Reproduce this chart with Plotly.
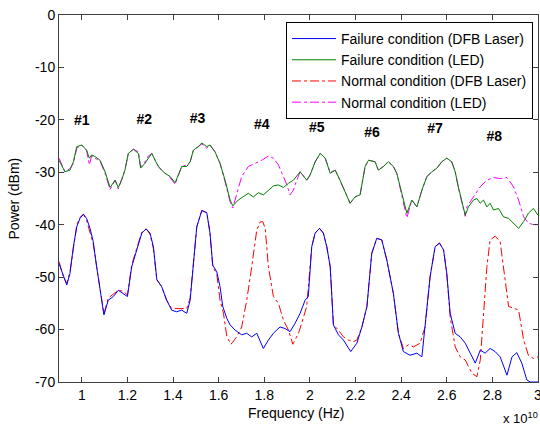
import plotly.graph_objects as go

# Frequency in units of 1e10 Hz, power in dBm
fail_dfb = [(0.900,-47.4),(0.919,-49.9),(0.934,-51.5),(0.948,-49.3),(0.963,-44.2),(0.978,-40.4),(0.992,-38.8),
            (1.007,-38.0),(1.021,-38.8),(1.036,-40.7),(1.050,-43.2),(1.065,-48.0),(1.080,-52.4),(1.097,-57.2),
            (1.116,-54.4),(1.138,-53.7),(1.160,-52.5),(1.182,-53.1),(1.200,-53.7),(1.219,-48.0),(1.241,-44.8),
            (1.263,-41.6),(1.282,-40.8),(1.299,-41.6),(1.314,-44.2),(1.329,-50.5),(1.350,-51.8),(1.372,-54.4),
            (1.394,-56.3),(1.416,-56.6),(1.438,-56.3),(1.460,-56.9),(1.475,-54.4),(1.489,-48.0),(1.504,-40.4),
            (1.526,-37.3),(1.548,-37.7),(1.562,-41.6),(1.574,-47.7),(1.592,-49.0),(1.606,-51.8),(1.618,-55.6),
            (1.636,-57.9),(1.650,-59.1),(1.672,-60.1),(1.701,-61.0),(1.723,-60.7),(1.745,-61.4),(1.767,-60.7),
            (1.796,-63.6),(1.818,-62.0),(1.840,-60.7),(1.869,-59.5),(1.891,-59.8),(1.913,-60.4),(1.935,-58.8),
            (1.957,-56.9),(1.979,-54.4),(1.993,-53.7),(2.008,-44.2),(2.023,-41.6),(2.042,-40.7),(2.059,-41.6),
            (2.074,-44.2),(2.089,-48.0),(2.103,-59.1),(2.125,-61.0),(2.147,-62.0),(2.179,-64.2),(2.206,-62.6),
            (2.228,-59.5),(2.250,-55.6),(2.271,-45.5),(2.293,-42.6),(2.315,-42.9),(2.337,-46.7),(2.366,-53.1),
            (2.388,-60.7),(2.410,-64.2),(2.439,-64.9),(2.469,-64.5),(2.491,-65.2),(2.505,-59.5),(2.527,-49.9),
            (2.549,-44.2),(2.568,-43.5),(2.586,-44.8),(2.600,-49.3),(2.615,-56.9),(2.637,-60.7),(2.659,-61.4),
            (2.681,-62.6),(2.703,-64.5),(2.725,-66.4),(2.747,-63.9),(2.768,-64.5),(2.790,-63.6),(2.812,-64.2),
            (2.834,-65.2),(2.864,-68.7),(2.886,-65.2),(2.907,-64.4),(2.929,-66.4),(2.951,-69.6),(2.966,-70.0),
            (3.000,-70.0)]

norm_dfb = [(0.900,-47.0),(0.919,-49.9),(0.934,-51.2),(0.948,-49.0),(0.963,-44.6),(0.978,-40.0),(0.992,-38.6),
            (1.007,-38.0),(1.021,-39.2),(1.036,-41.3),(1.050,-43.6),(1.065,-48.0),(1.080,-52.4),(1.097,-57.0),
            (1.116,-54.0),(1.138,-53.2),(1.160,-52.5),(1.182,-52.7),(1.200,-53.4),(1.219,-47.6),(1.241,-44.4),
            (1.263,-41.4),(1.282,-40.8),(1.299,-41.8),(1.314,-44.6),(1.329,-50.5),(1.350,-51.8),(1.372,-54.4),
            (1.394,-56.0),(1.416,-56.0),(1.438,-56.0),(1.460,-56.0),(1.475,-54.0),(1.489,-48.0),(1.504,-40.4),
            (1.526,-37.3),(1.548,-37.7),(1.562,-41.6),(1.574,-48.0),(1.592,-49.5),(1.606,-54.4),(1.621,-56.9),
            (1.636,-61.4),(1.654,-62.8),(1.679,-61.4),(1.701,-59.5),(1.723,-54.4),(1.745,-48.0),(1.767,-41.0),
            (1.782,-39.5),(1.793,-39.4),(1.804,-40.7),(1.818,-48.0),(1.840,-53.7),(1.862,-55.0),(1.884,-58.2),
            (1.906,-60.1),(1.925,-62.8),(1.950,-60.7),(1.964,-58.8),(1.986,-55.6),(2.008,-44.2),(2.023,-41.6),
            (2.042,-40.7),(2.059,-41.6),(2.074,-44.2),(2.089,-48.0),(2.103,-59.1),(2.125,-60.1),(2.147,-61.4),
            (2.169,-62.0),(2.191,-62.3),(2.206,-62.0),(2.228,-59.5),(2.250,-55.6),(2.271,-45.5),(2.293,-42.6),
            (2.315,-42.9),(2.337,-46.7),(2.366,-53.1),(2.388,-60.7),(2.410,-63.6),(2.432,-62.9),(2.454,-63.3),
            (2.483,-62.6),(2.505,-59.5),(2.527,-49.9),(2.549,-44.2),(2.568,-43.5),(2.586,-44.8),(2.600,-49.3),
            (2.615,-57.6),(2.637,-63.3),(2.659,-65.2),(2.681,-65.8),(2.710,-68.3),(2.732,-69.0),(2.747,-65.8),
            (2.761,-57.6),(2.776,-48.0),(2.790,-42.9),(2.812,-42.2),(2.834,-43.2),(2.849,-48.0),(2.871,-55.6),
            (2.893,-55.9),(2.915,-56.3),(2.937,-62.0),(2.958,-64.9),(2.980,-65.5),(3.000,-65.2)]

fail_led = [(0.900,-27.7),(0.926,-29.9),(0.948,-29.6),(0.963,-28.0),(0.978,-25.1),(1.000,-24.8),(1.021,-25.8),
            (1.033,-27.3),(1.043,-26.7),(1.058,-27.0),(1.080,-27.7),(1.102,-29.9),(1.124,-32.9),(1.146,-31.5),
            (1.160,-32.9),(1.175,-31.5),(1.189,-29.6),(1.204,-26.4),(1.226,-25.6),(1.248,-26.4),(1.258,-29.2),
            (1.277,-28.3),(1.292,-27.3),(1.307,-26.4),(1.321,-27.7),(1.336,-28.9),(1.350,-29.6),(1.365,-30.2),
            (1.387,-30.8),(1.409,-32.0),(1.423,-30.5),(1.438,-28.9),(1.460,-28.9),(1.475,-28.0),(1.489,-25.8),
            (1.511,-25.1),(1.526,-24.4),(1.548,-25.1),(1.562,-24.8),(1.584,-26.1),(1.606,-28.3),(1.628,-31.5),
            (1.650,-35.3),(1.662,-36.4),(1.686,-35.3),(1.708,-34.7),(1.730,-34.0),(1.752,-34.7),(1.774,-33.9),
            (1.796,-34.3),(1.818,-33.4),(1.840,-32.6),(1.862,-32.4),(1.884,-32.9),(1.906,-32.1),(1.928,-31.5),
            (1.957,-29.9),(1.986,-31.5),(2.001,-30.5),(2.023,-28.0),(2.045,-26.4),(2.067,-27.3),(2.089,-30.2),
            (2.111,-29.6),(2.132,-31.5),(2.154,-33.7),(2.176,-35.9),(2.198,-34.7),(2.220,-34.3),(2.242,-28.9),
            (2.257,-27.7),(2.286,-28.0),(2.300,-29.6),(2.322,-28.9),(2.344,-28.0),(2.366,-28.9),(2.381,-30.2),
            (2.403,-34.0),(2.425,-37.8),(2.447,-35.3),(2.469,-36.6),(2.491,-33.4),(2.513,-30.8),(2.535,-29.9),
            (2.557,-29.2),(2.578,-28.0),(2.600,-27.3),(2.622,-28.0),(2.637,-29.9),(2.651,-32.8),(2.666,-35.3),
            (2.681,-38.2),(2.695,-36.6),(2.717,-35.3),(2.732,-35.0),(2.747,-35.9),(2.761,-35.3),(2.776,-36.6),
            (2.790,-35.9),(2.805,-37.2),(2.827,-36.9),(2.849,-38.5),(2.871,-38.8),(2.893,-39.7),(2.915,-40.7),
            (2.937,-39.4),(2.958,-37.8),(2.980,-36.9),(3.000,-38.2)]

norm_led = [(0.900,-27.3),(0.926,-29.9),(0.948,-29.3),(0.963,-28.3),(0.978,-25.4),(1.000,-24.8),(1.021,-25.8),
            (1.033,-28.6),(1.043,-26.9),(1.058,-27.3),(1.080,-27.9),(1.102,-30.2),(1.124,-33.3),(1.146,-31.5),
            (1.160,-33.2),(1.175,-31.2),(1.189,-29.6),(1.204,-26.4),(1.226,-25.6),(1.248,-26.1),(1.258,-29.0),
            (1.277,-28.0),(1.292,-26.9),(1.307,-26.4),(1.321,-27.7),(1.336,-28.9),(1.350,-29.6),(1.365,-30.2),
            (1.387,-31.0),(1.409,-32.3),(1.423,-30.5),(1.438,-28.9),(1.460,-28.6),(1.475,-28.0),(1.489,-25.8),
            (1.511,-25.1),(1.526,-24.6),(1.548,-25.4),(1.562,-24.8),(1.584,-26.1),(1.606,-28.3),(1.628,-31.8),
            (1.650,-35.6),(1.662,-36.8),(1.679,-34.0),(1.701,-30.8),(1.730,-28.9),(1.760,-28.3),(1.789,-27.7),
            (1.818,-26.9),(1.840,-27.3),(1.862,-28.6),(1.884,-30.8),(1.899,-32.4),(1.913,-34.3),(1.928,-33.4),
            (1.935,-32.4),(1.957,-29.9),(1.986,-31.5),(2.001,-30.5),(2.023,-28.0),(2.045,-26.4),(2.067,-27.3),
            (2.089,-30.0),(2.111,-29.6),(2.132,-31.5),(2.154,-33.7),(2.176,-35.9),(2.198,-34.7),(2.220,-34.3),
            (2.242,-28.9),(2.257,-27.7),(2.286,-28.0),(2.300,-29.6),(2.322,-28.9),(2.344,-28.0),(2.366,-28.9),
            (2.381,-30.2),(2.403,-34.3),(2.425,-38.7),(2.447,-35.3),(2.469,-36.6),(2.491,-33.4),(2.513,-30.8),
            (2.535,-29.9),(2.557,-29.2),(2.578,-28.0),(2.600,-27.3),(2.622,-28.0),(2.637,-29.9),(2.651,-33.0),
            (2.666,-35.6),(2.681,-38.4),(2.688,-36.6),(2.717,-34.7),(2.746,-32.8),(2.776,-31.5),(2.805,-31.0),
            (2.834,-31.2),(2.864,-31.0),(2.893,-32.8),(2.915,-35.3),(2.937,-38.5),(2.958,-39.7),(2.988,-40.1),
            (3.000,-39.9)]

peak_labels = ["#1", "#2", "#3", "#4", "#5", "#6", "#7", "#8"]
peak_label_x = [1.00, 1.274, 1.507, 1.789, 2.030, 2.272, 2.549, 2.808]
peak_label_y = [-20.4, -20.2, -19.9, -21.0, -21.6, -22.6, -21.8, -23.3]

x_ticks = [1.0, 1.2, 1.4, 1.6, 1.8, 2.0, 2.2, 2.4, 2.6, 2.8, 3.0]
x_tick_text = ["1", "1.2", "1.4", "1.6", "1.8", "2", "2.2", "2.4", "2.6", "2.8", "3"]
y_ticks = [0, -10, -20, -30, -40, -50, -60, -70]
y_tick_text = ["0", "-10", "-20", "-30", "-40", "-50", "-60", "-70"]

FONT = "Liberation Sans, Arial, sans-serif"


def unzip(pairs):
    return [p[0] for p in pairs], [p[1] for p in pairs]


series = [
    # (data, name, color, dash, legendrank) in drawing order
    (norm_dfb, "Normal condition (DFB Laser)", "#ff0000", "dashdot", 3),
    (norm_led, "Normal condition (LED)", "#ff00ff", "dashdot", 4),
    (fail_dfb, "Failure condition (DFB Laser)", "#0000ff", "solid", 1),
    (fail_led, "Failure condition (LED)", "#008000", "solid", 2),
]

fig = go.Figure()
for data, name, color, dash, rank in series:
    xs, ys = unzip(data)
    fig.add_trace(go.Scatter(x=xs, y=ys, mode="lines", name=name, legendrank=rank,
                             line=dict(color=color, width=1, dash=dash)))

fig.add_trace(go.Scatter(x=peak_label_x, y=peak_label_y, mode="text",
                         text=["<b>%s</b>" % t for t in peak_labels],
                         textfont=dict(family=FONT, size=14, color="black"),
                         textposition="middle center", showlegend=False, hoverinfo="skip"))

axis_common = dict(showline=True, linecolor="#404040", linewidth=1, mirror="ticks",
                   ticks="inside", ticklen=5, tickcolor="#404040", showgrid=False, zeroline=False,
                   tickfont=dict(family=FONT, size=14, color="black"), automargin=False)

fig.update_layout(
    width=540, height=426, autosize=False,
    margin=dict(l=59, r=2, t=15, b=44),
    paper_bgcolor="white", plot_bgcolor="white",
    font=dict(family=FONT, size=14, color="black"),
    xaxis=dict(range=[0.9, 3.0], tickvals=x_ticks, ticktext=x_tick_text,
               ticklabeloverflow="allow", **axis_common),
    yaxis=dict(range=[-70, 0], tickvals=y_ticks, ticktext=y_tick_text, **axis_common),
    legend=dict(x=0.9896, y=0.981, xanchor="right", yanchor="top", bgcolor="white",
                bordercolor="black", borderwidth=1, font=dict(family=FONT, size=14),
                tracegroupgap=0, itemwidth=44),
    annotations=[
        dict(text="Power (dBm)", xref="paper", yref="paper", x=-0.094, y=0.5, textangle=-90,
             showarrow=False, xanchor="center", yanchor="middle", font=dict(family=FONT, size=14)),
        dict(text="Frequency (Hz)", xref="paper", yref="paper", x=0.495, y=-0.084,
             showarrow=False, xanchor="center", yanchor="middle", font=dict(family=FONT, size=14)),
        dict(text="x 10<sup>10</sup>", xref="paper", yref="paper", x=1.004, y=-0.098,
             showarrow=False, xanchor="right", yanchor="middle", font=dict(family=FONT, size=13)),
    ],
)

fig.write_html("out.html")
